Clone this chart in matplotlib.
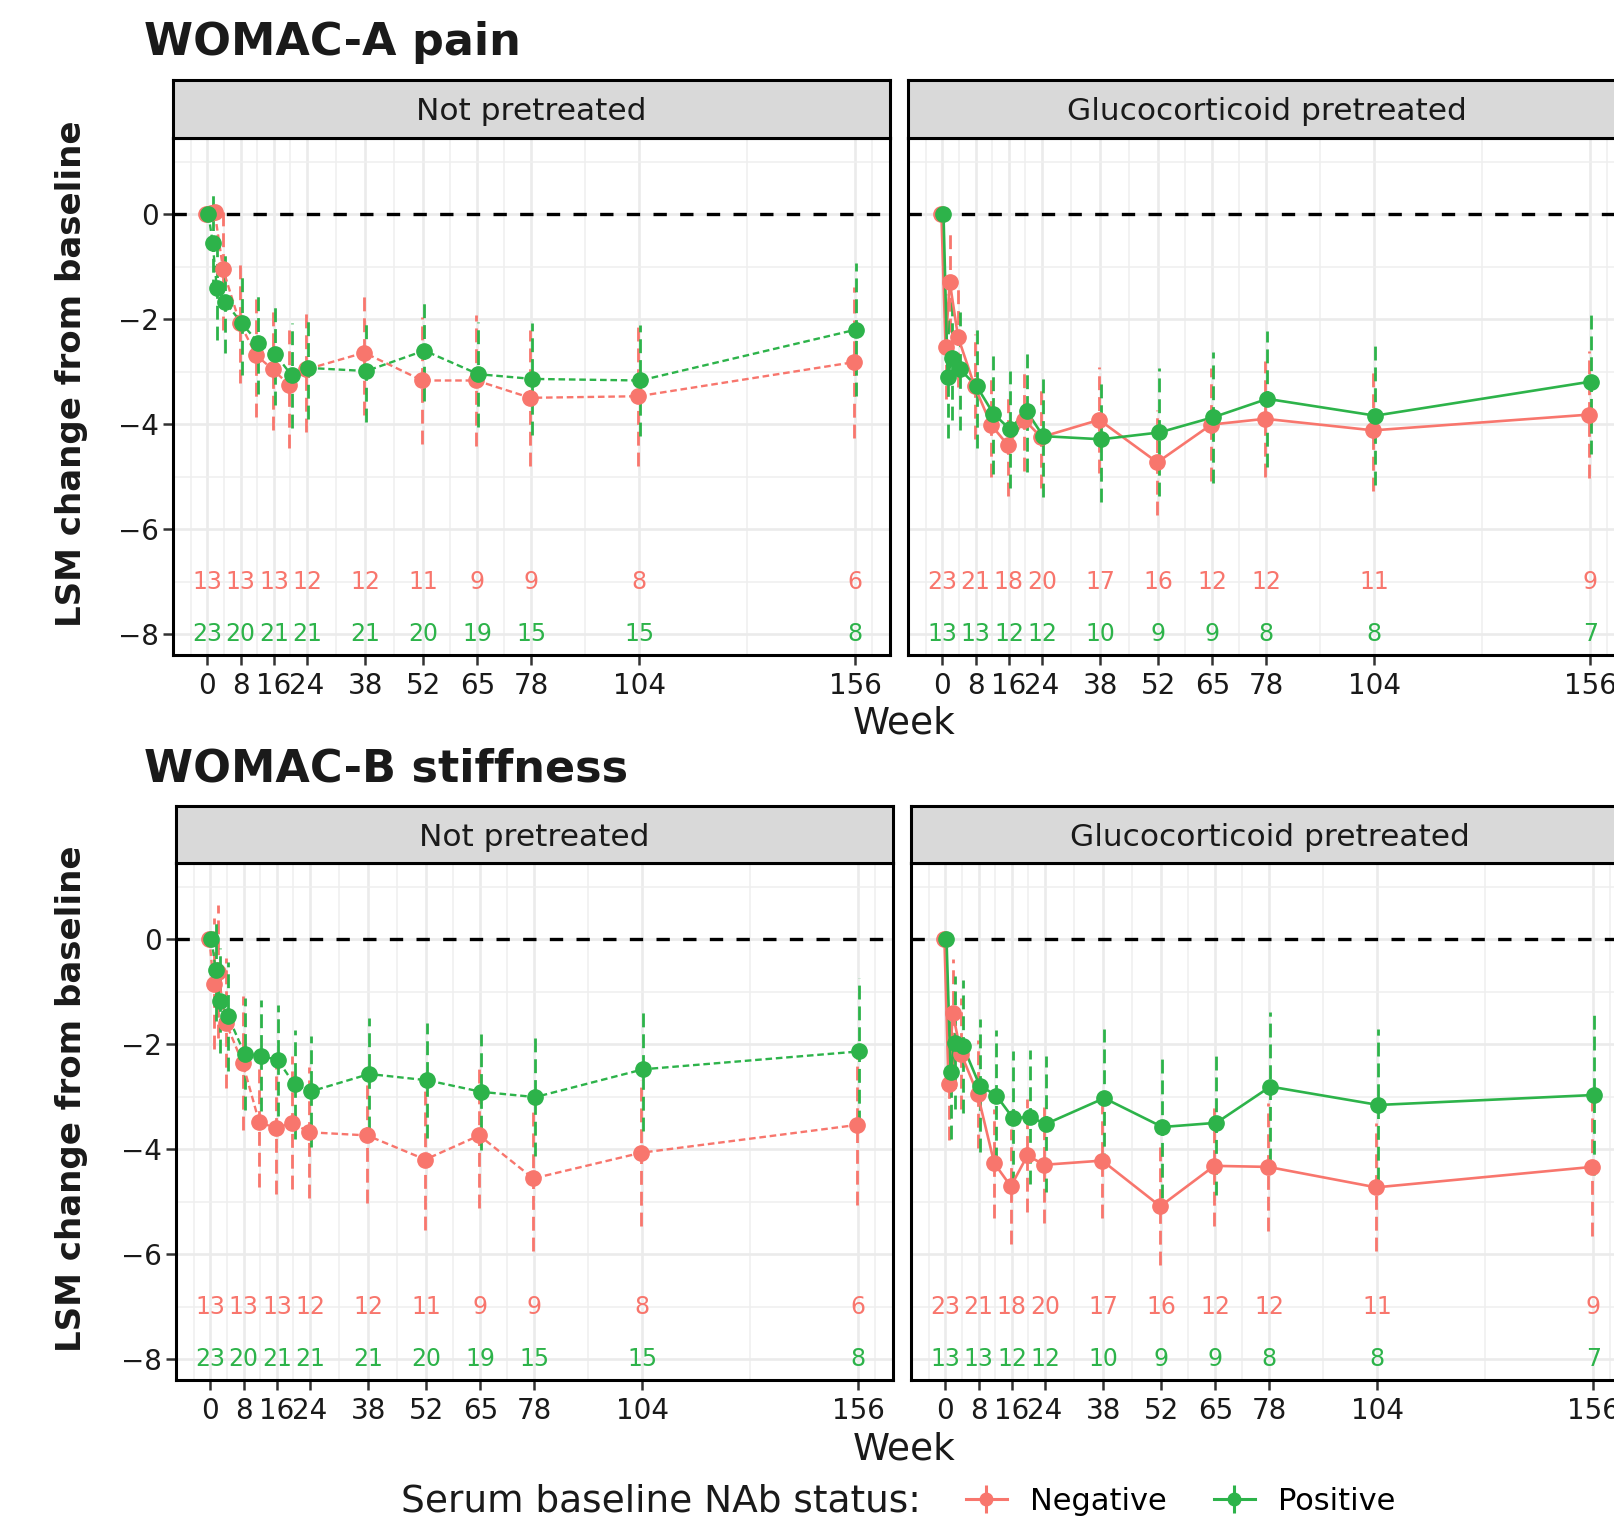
import numpy as np
import matplotlib
matplotlib.use("Agg")
import matplotlib.pyplot as plt
from matplotlib.lines import Line2D

# ---- data ----
weeks = [0, 1, 2, 4, 8, 12, 16, 20, 24, 38, 52, 65, 78, 104, 156]
tick_weeks = [0, 8, 16, 24, 38, 52, 65, 78, 104, 156]
count_weeks = [0, 8, 16, 24, 38, 52, 65, 78, 104, 156]

# WOMAC-A pain, not pretreated
pain_np_neg = [0, 0.02, 0.04, -1.05, -2.07, -2.69, -2.96, -3.26, -2.96, -2.64, -3.17, -3.17, -3.50, -3.47, -2.82]
pain_np_neg_ci = [0, 0.12, 0.12, 1.15, 1.14, 1.17, 1.16, 1.19, 1.19, 1.18, 1.21, 1.25, 1.30, 1.33, 1.44]
pain_np_pos = [0, -0.55, -1.40, -1.67, -2.08, -2.45, -2.66, -3.07, -2.93, -2.99, -2.60, -3.05, -3.14, -3.17, -2.20]
pain_np_pos_ci = [0, 0.96, 1.00, 0.98, 0.98, 0.97, 0.97, 1.00, 0.97, 0.97, 0.96, 1.00, 1.07, 1.06, 1.27]
# WOMAC-A pain, glucocorticoid pretreated
pain_gc_neg = [0, -2.53, -1.29, -2.34, -3.28, -4.02, -4.40, -3.92, -4.25, -3.92, -4.73, -4.01, -3.90, -4.12, -3.82]
pain_gc_neg_ci = [0, 1.00, 0.95, 0.96, 1.00, 0.98, 0.98, 0.97, 0.96, 1.01, 1.00, 1.08, 1.10, 1.15, 1.21]
pain_gc_pos = [0, -3.10, -2.75, -2.96, -3.28, -3.80, -4.10, -3.75, -4.23, -4.29, -4.16, -3.87, -3.52, -3.84, -3.19]
pain_gc_pos_ci = [0, 1.17, 1.18, 1.16, 1.17, 1.16, 1.12, 1.16, 1.16, 1.19, 1.22, 1.25, 1.30, 1.32, 1.38]
# WOMAC-B stiffness, not pretreated
stiff_np_neg = [0, -0.85, -0.62, -1.60, -2.36, -3.49, -3.60, -3.50, -3.68, -3.74, -4.20, -3.74, -4.56, -4.07, -3.54]
stiff_np_neg_ci = [0, 1.25, 1.27, 1.24, 1.27, 1.23, 1.25, 1.27, 1.25, 1.29, 1.34, 1.38, 1.39, 1.39, 1.53]
stiff_np_pos = [0, -0.58, -1.17, -1.47, -2.19, -2.22, -2.31, -2.77, -2.90, -2.57, -2.69, -2.91, -3.01, -2.48, -2.14]
stiff_np_pos_ci = [0, 0.98, 1.00, 1.04, 1.07, 1.06, 1.06, 1.04, 1.06, 1.07, 1.09, 1.10, 1.12, 1.18, 1.39]
# WOMAC-B stiffness, glucocorticoid pretreated
stiff_gc_neg = [0, -2.77, -1.41, -2.18, -2.95, -4.27, -4.71, -4.12, -4.30, -4.22, -5.09, -4.32, -4.34, -4.73, -4.34]
stiff_gc_neg_ci = [0, 1.05, 1.03, 1.05, 1.03, 1.04, 1.10, 1.07, 1.11, 1.09, 1.12, 1.15, 1.22, 1.22, 1.32]
stiff_gc_pos = [0, -2.54, -1.97, -2.04, -2.79, -2.98, -3.41, -3.39, -3.52, -3.03, -3.58, -3.50, -2.81, -3.16, -2.97]
stiff_gc_pos_ci = [0, 1.26, 1.26, 1.27, 1.27, 1.25, 1.27, 1.28, 1.29, 1.32, 1.35, 1.37, 1.43, 1.44, 1.53]

# patient counts
n_np_neg = [13, 13, 13, 12, 12, 11, 9, 9, 8, 6]
n_np_pos = [23, 20, 21, 21, 21, 20, 19, 15, 15, 8]
n_gc_neg = [23, 21, 18, 20, 17, 16, 12, 12, 11, 9]
n_gc_pos = [13, 13, 12, 12, 10, 9, 9, 8, 8, 7]

RED = "#F8766D"
GREEN = "#2DB34A"
W, H = 1614, 1527

fig = plt.figure(figsize=(W / 100, H / 100), dpi=100)


def add_ax(x0, y0, x1, y1):
    return fig.add_axes([x0 / W, 1 - y1 / H, (x1 - x0) / W, (y1 - y0) / H])


def strip(x0, y0, x1, y1, label):
    s = add_ax(x0, y0, x1, y1)
    s.set_facecolor("#D9D9D9")
    s.set_xticks([])
    s.set_yticks([])
    for sp in s.spines.values():
        sp.set_linewidth(2.2)
    s.text(0.5, 0.45, label, transform=s.transAxes, ha="center", va="center",
           fontsize=22.5, color="#1a1a1a")


def panel(ax, neg, neg_ci, pos, pos_ci, n_neg, n_pos, ls, show_y):
    ax.set_xticks(tick_weeks)
    ax.set_xticks([-4, 4, 12, 20, 31, 45, 58.5, 71.5, 91, 130, 160], minor=True)
    ax.set_yticks([-8, -6, -4, -2, 0])
    ax.set_yticks([-9, -7, -5, -3, -1, 1], minor=True)
    ax.set_xlim(-8.3, 164.4)
    ax.set_ylim(-8.4, 1.45)
    ax.grid(which="major", color="#EBEBEB", lw=1.9)
    ax.grid(which="minor", color="#EFEFEF", lw=1.1)
    ax.set_axisbelow(True)
    ax.axhline(0, color="black", lw=2.4, ls=(0, (4, 4)), zorder=2)

    groups = [(RED, np.array(neg), np.array(neg_ci), -0.25),
              (GREEN, np.array(pos), np.array(pos_ci), 0.25)]
    for col, m, h, dx in groups:
        x = np.array(weeks) + dx
        ax.vlines(x, m - h, m + h, color=col, lw=2.0, linestyles=(0, (5, 2.5)), zorder=3)
    for col, m, h, dx in groups:
        x = np.array(weeks) + dx
        if ls == "dotted":
            ax.plot(x, m, color=col, lw=1.7, ls=(0, (2.8, 1.6)), zorder=4)
        else:
            ax.plot(x, m, color=col, lw=1.9, zorder=4)
    for col, m, h, dx in groups:
        x = np.array(weeks) + dx
        ax.plot(x, m, "o", color=col, ms=11, zorder=5)

    for w, a, b in zip(count_weeks, n_neg, n_pos):
        ax.text(w, -7, str(a), color=RED, ha="center", va="center", fontsize=17)
        ax.text(w, -8, str(b), color=GREEN, ha="center", va="center", fontsize=17)

    for sp in ax.spines.values():
        sp.set_linewidth(2.2)
    ax.tick_params(which="minor", length=0)
    ax.tick_params(which="major", length=7, width=1.8, color="#333333",
                   labelsize=20, labelcolor="#1a1a1a")
    ax.tick_params(axis="x", pad=5)
    if not show_y:
        ax.tick_params(axis="y", which="both", left=False, labelleft=False)


rows = [
    ("WOMAC-A pain", 0, 80, 138, 655,
     (pain_np_neg, pain_np_neg_ci, pain_np_pos, pain_np_pos_ci),
     (pain_gc_neg, pain_gc_neg_ci, pain_gc_pos, pain_gc_pos_ci)),
    ("WOMAC-B stiffness", 3, 806, 863, 1380,
     (stiff_np_neg, stiff_np_neg_ci, stiff_np_pos, stiff_np_pos_ci),
     (stiff_gc_neg, stiff_gc_neg_ci, stiff_gc_pos, stiff_gc_pos_ci)),
]

for title, dx, y_strip, y_top, y_bot, d_np, d_gc in rows:
    ax1 = add_ax(173 + dx, y_top, 890 + dx, y_bot)
    panel(ax1, *d_np, n_np_neg, n_np_pos, "dotted", True)
    strip(173 + dx, y_strip, 890 + dx, y_top, "Not pretreated")
    ax2 = add_ax(908 + dx, y_top, 1625 + dx, y_bot)
    panel(ax2, *d_gc, n_gc_neg, n_gc_pos, "solid", False)
    strip(908 + dx, y_strip, 1625 + dx, y_top, "Glucocorticoid pretreated")

    fig.text(144 / W, 1 - (y_strip - 37) / H, title, fontsize=32, fontweight="bold",
             ha="left", va="center", color="#1a1a1a")
    fig.text(72 / W, 1 - ((y_strip + y_bot) / 2 + 6) / H, "LSM change from baseline",
             rotation=90, fontsize=24.5, fontweight="bold", ha="center", va="center",
             color="#1a1a1a")
    fig.text(904 / W, 1 - (y_bot + 69) / H, "Week", fontsize=27, ha="center",
             va="center", color="#1a1a1a")

fig.text(401 / W, 1 - 1501 / H, "Serum baseline NAb status:", fontsize=27,
         ha="left", va="center", color="#1a1a1a")
handles = [
    (Line2D([], [], color=RED, marker="o", ms=9, lw=2.2),
     Line2D([], [], color=RED, marker="|", ms=20, mew=2.2, lw=0)),
    (Line2D([], [], color=GREEN, marker="o", ms=9, lw=2.2),
     Line2D([], [], color=GREEN, marker="|", ms=20, mew=2.2, lw=0)),
]
fig.legend(handles, ["Negative", "Positive"], loc="center left",
           bbox_to_anchor=(938 / W, 1 - 1501 / H), ncol=2, frameon=False,
           fontsize=22, handlelength=1.35, handletextpad=0.75, columnspacing=1.55)

fig.savefig("out.png", dpi=100)
